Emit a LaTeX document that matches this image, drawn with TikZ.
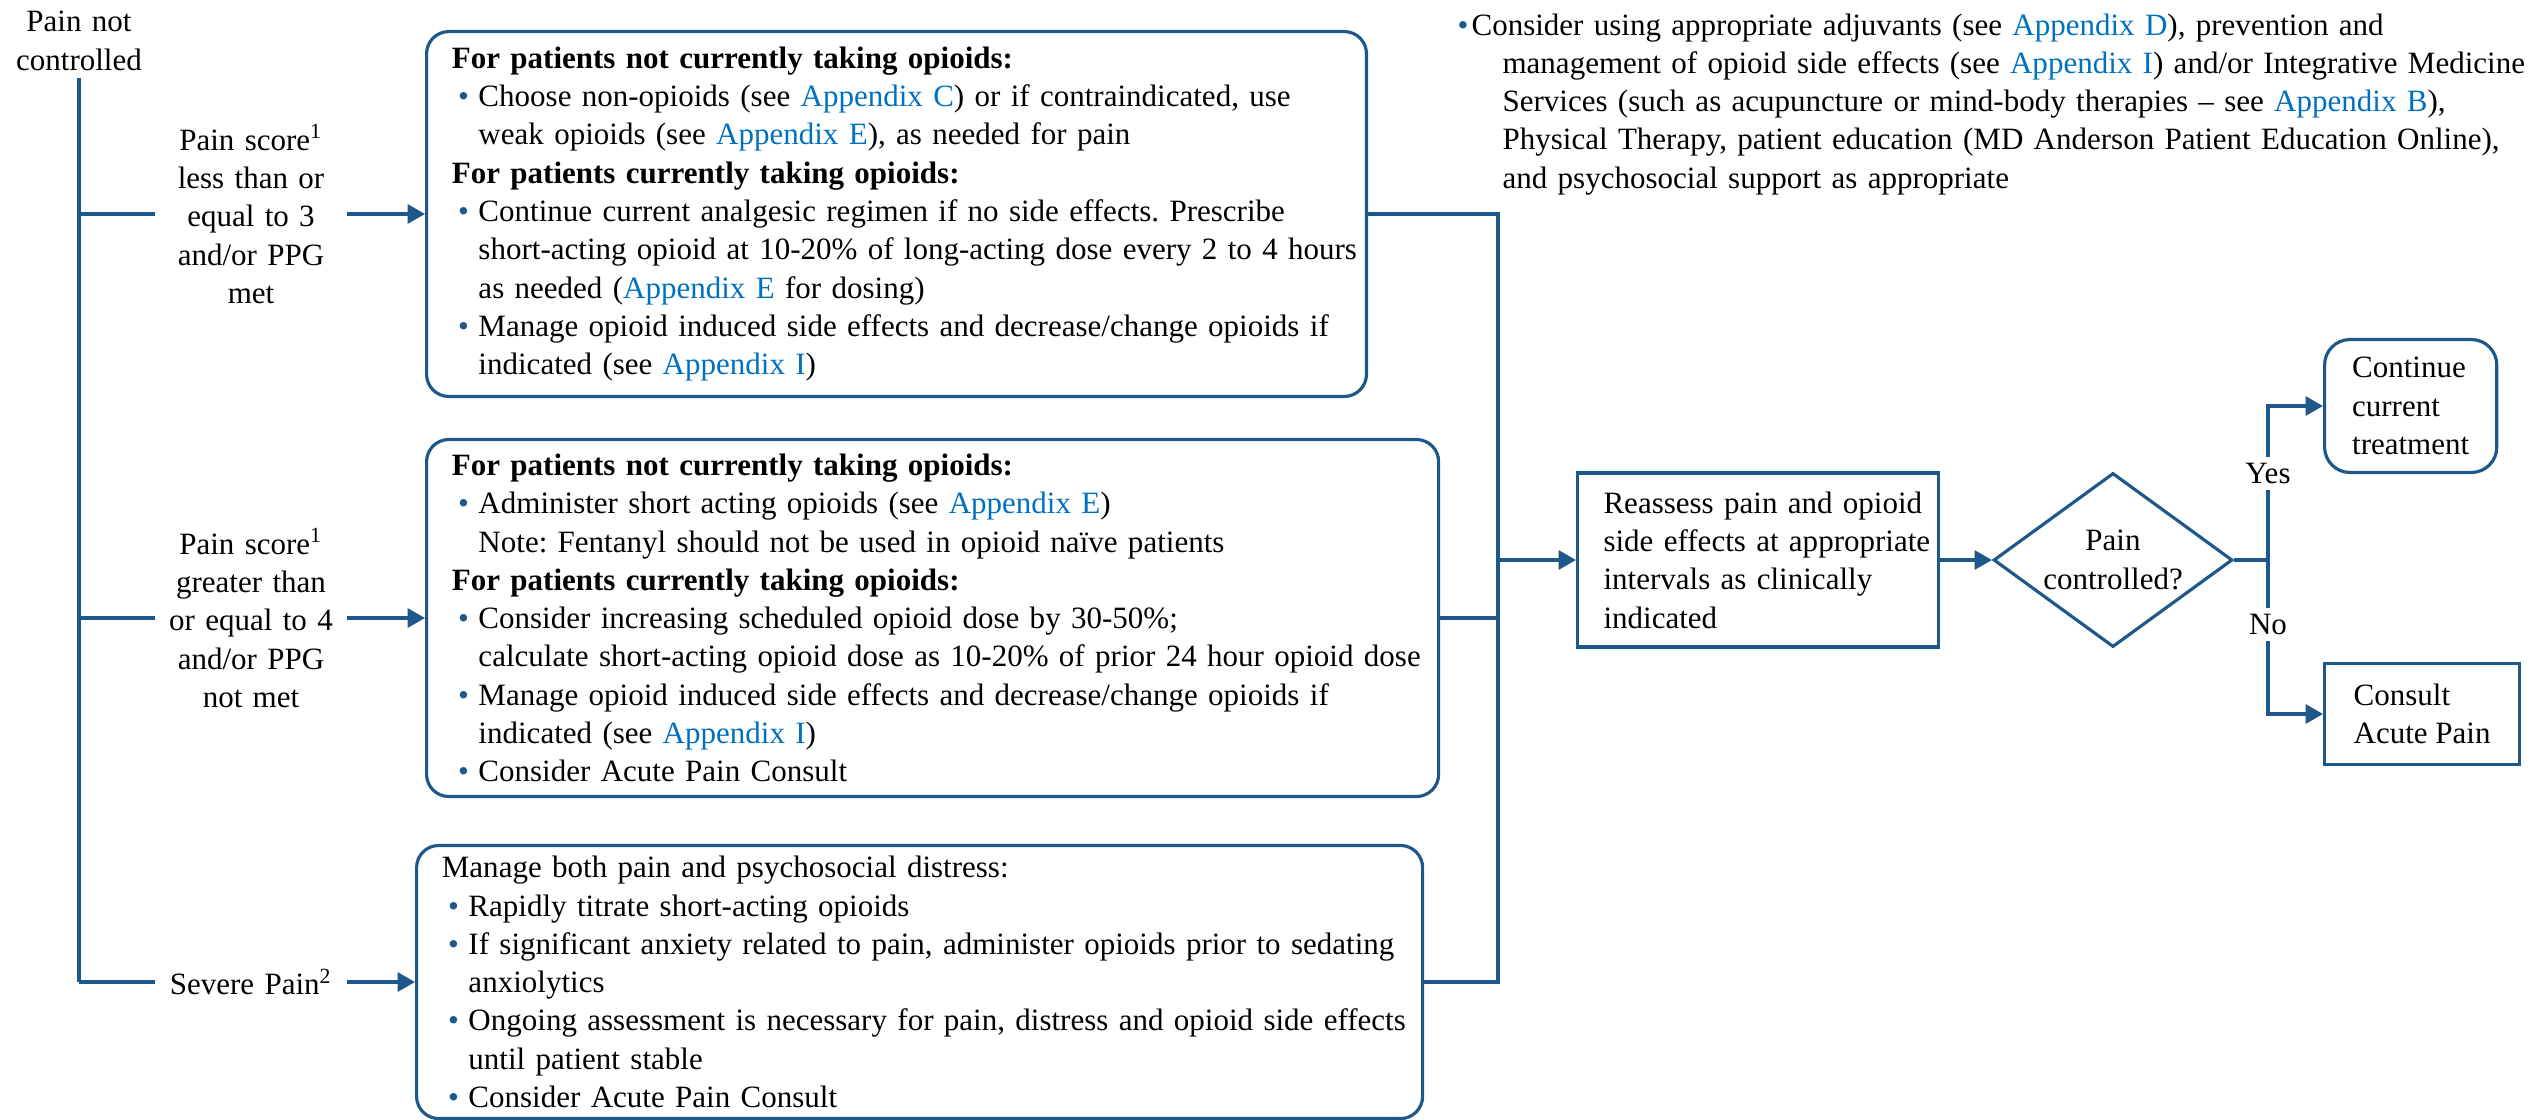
\documentclass[tikz,border=0pt]{standalone}
\usepackage{fontspec}
\setmainfont{Liberation Serif}
\usetikzlibrary{shapes.geometric, arrows.meta, positioning}
\definecolor{flowblue}{RGB}{30,88,138}
\definecolor{apxblue}{RGB}{0,112,192}
\newcommand{\apx}[1]{\textcolor{apxblue}{Appendix #1}}
\newcommand{\bul}{\textcolor{flowblue}{\textbullet}}
\newcommand{\hd}[1]{\textbf{#1}\par}
\newcommand{\itm}[1]{\hangindent=8.4pt\hangafter=1\makebox[8.4pt][l]{\hspace{2pt}\bul}#1\par}
\frenchspacing

\begin{document}
\begin{tikzpicture}[
    x=0.316pt, y=-0.316pt,
    every node/.style={font=\fontsize{9.8}{12.1}\selectfont},
    ln/.style={draw=flowblue, line width=1pt},
    arr/.style={ln, -{Triangle[length=5.5pt,width=6pt]}},
    lpad/.style={execute at begin node={\leftskip=#1\rightskip=-3pt plus 1fil\hyphenpenalty=10000}},
    box/.style={draw=flowblue, line width=1pt, rounded corners=7pt, anchor=west,
      align=left, inner xsep=2pt, inner ysep=2pt, lpad=6pt},
    rbox/.style={draw=flowblue, line width=1pt, anchor=west, align=left},
    dia/.style={diamond, draw=flowblue, line width=1pt, aspect=1.37, inner sep=0pt,
      minimum width=75.5pt, minimum height=55pt, align=center},
    lbl/.style={align=center, text width=60pt, inner sep=0pt},
    yn/.style={fill=white, inner xsep=1pt, inner ysep=2pt},
    note/.style={anchor=base west, text width=350pt, inner sep=0pt, align=left, lpad=0pt}
  ]
  \useasboundingbox (0,0) rectangle (2532,1119);

  \node[lbl, inner ysep=2pt] (top) at (79,41) {Pain not\\controlled};
  \coordinate (t1) at (79,214);
  \coordinate (t2) at (79,618);
  \coordinate (t3) at (79,982);

  \node[lbl] (l1) at (251,214) {Pain score\textsuperscript{1}\\less than or\\equal to 3\\and/or PPG\\met};
  \node[lbl] (l2) at (251,618) {Pain score\textsuperscript{1}\\greater than\\or equal to 4\\and/or PPG\\not met};
  \node[lbl] (l3) at (251,982) {Severe Pain\textsuperscript{2}};

  \node[box, text width=293pt, minimum height=115.3pt] (b1) at (425,214) {%
    \hd{For patients not currently taking opioids:}%
    \itm{Choose non-opioids (see \apx{C}) or if contraindicated, use\newline weak opioids (see \apx{E}), as needed for pain}%
    \hd{For patients currently taking opioids:}%
    \itm{Continue current analgesic regimen if no side effects. Prescribe\newline short-acting opioid at 10-20\% of long-acting dose every 2 to 4 hours\newline as needed (\apx{E} for dosing)}%
    \itm{Manage opioid induced side effects and decrease/change opioids if\newline indicated (see \apx{I})}};
  \node[box, text width=315.8pt, minimum height=112.8pt] (b2) at (425,618) {%
    \hd{For patients not currently taking opioids:}%
    \itm{Administer short acting opioids (see \apx{E})\newline Note: Fentanyl should not be used in opioid naïve patients}%
    \hd{For patients currently taking opioids:}%
    \itm{Consider increasing scheduled opioid dose by 30-50\%;\newline calculate short-acting opioid dose as 10-20\% of prior 24 hour opioid dose}%
    \itm{Manage opioid induced side effects and decrease/change opioids if\newline indicated (see \apx{I})}%
    \itm{Consider Acute Pain Consult}};
  \node[box, text width=313.9pt, minimum height=86.3pt] (b3) at (415,982) {%
    Manage both pain and psychosocial distress:\par
    \itm{Rapidly titrate short-acting opioids}%
    \itm{If significant anxiety related to pain, administer opioids prior to sedating\newline anxiolytics}%
    \itm{Ongoing assessment is necessary for pain, distress and opioid side effects\newline until patient stable}%
    \itm{Consider Acute Pain Consult}};

  \coordinate (m1) at (1498,214);
  \coordinate (m3) at (1498,982);
  \coordinate (mg) at (1498,560);

  \node[rbox, text width=111pt, inner xsep=1.5pt, minimum height=55pt, lpad=6.7pt] (rs) at (1576,560)
    {Reassess pain and opioid\newline side effects at appropriate\newline intervals as clinically\newline indicated};
  \node[dia] (dec) at (2113,560) {Pain\\controlled?};
  \coordinate (jn) at (2268,560);
  \node[rbox, rounded corners=8pt, inner xsep=8.7pt, minimum height=42pt] (cont) at (2323,406)
    {Continue\\current\\treatment};
  \node[rbox, inner xsep=8.7pt, minimum width=61.6pt, minimum height=32pt] (cons) at (2323,714)
    {Consult\\Acute Pain};

  \node[note] (adj) at (1457,35) {\hangindent=14.2pt\hangafter=1\makebox[4.4pt][l]{\bul}Consider using appropriate adjuvants (see \apx{D}), prevention and\newline management of opioid side effects (see \apx{I}) and/or Integrative Medicine\newline Services (such as acupuncture or mind-body therapies – see \apx{B}),\newline Physical Therapy, patient education (MD Anderson Patient Education Online),\newline and psychosocial support as appropriate\par};

  \draw[ln] (top.south) -- (t3);
  \draw[ln] (t1) -- (l1.west);
  \draw[ln] (t2) -- (l2.west);
  \draw[ln] (t3) -- (l3.west);
  \draw[arr] (l1.east) -- (b1.west);
  \draw[arr] (l2.east) -- (b2.west);
  \draw[arr] (l3.east) -- (b3.west);
  \draw[ln] (b1.east) -- (m1) -- (m3) -- (b3.east);
  \draw[ln] (b2.east) -- (b2.east -| m1);
  \draw[arr] (mg) -- (rs.west);
  \draw[arr] (rs.east) -- (dec.west);
  \draw[ln] (dec.east) -- (jn);
  \draw[arr] (jn) |- node[yn, pos=0.28] {Yes} (cont.west);
  \draw[arr] (jn) |- node[yn, pos=0.21] {No} (cons.west);
\end{tikzpicture}
\end{document}
